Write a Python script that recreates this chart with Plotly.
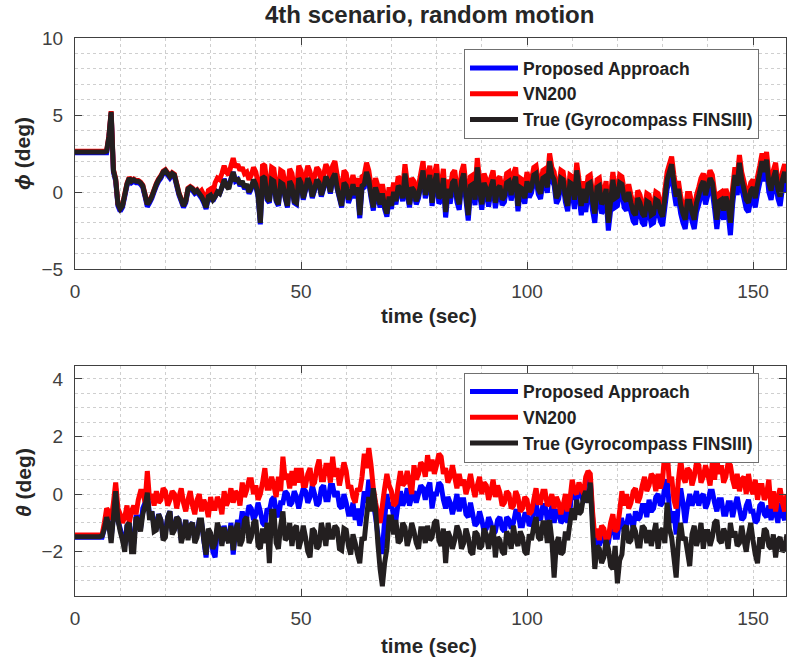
import plotly.graph_objects as go

# ---------------- data (0.5 s steps) ----------------
time_s = [i * 0.5 for i in range(316)]

phi_true = [
    2.6, 2.6, 2.6, 2.6, 2.6, 2.6, 2.6, 2.6, 2.6, 2.6, 2.6, 2.6, 2.6, 2.6, 2.65, 3.6, 5.2, 1.4, 0.8, -0.8,
    -1.1, -0.9, -0.2, 0.5, 0.9, 0.7, 0.8, 0.7, 0.7, 0.6, 0.4, -0.2, -0.8, -0.6, -0.3, 0.1, 0.5, 0.8, 1.0, 1.3,
    1.4, 1.2, 1.0, 1.2, 1.1, 0.5, -0.1, -0.5, -0.9, -0.6, 0.2, 0.3, 0.2, 0.0, 0.1, -0.1, -0.3, -0.6, -1.0, -0.3,
    -0.2, -0.5, -0.3, 0.0, -0.1, 0.3, 0.8, 0.4, 0.2, 0.8, 1.3, 0.7, 0.9, 0.5, 0.7, 0.3, 0.5, 0.0, 0.3, 0.8,
    0.5, -0.2, -2.0, 1.0, 0.9, -0.4, -0.6, 0.8, 0.7, -0.5, -0.8, 0.6, 0.5, -0.3, -0.9, 0.7, 0.4, -0.6, -0.7, 0.9,
    0.6, -0.4, 0.2, 0.9, 0.5, -0.3, 0.2, 0.8, 0.6, -0.2, 0.3, 1.0, 0.7, 0.0, 0.9, 1.2, 0.3, -0.3, -0.9, 0.6,
    0.4, -0.5, -0.1, 0.5, -0.2, 0.3, -1.5, 0.4, 0.5, 1.3, 0.8, -0.2, -1.0, 0.3, -0.2, -0.8, -0.1, -0.9, -1.4, -0.3,
    -0.9, 0.0, -0.6, 0.4, 0.2, -0.4, 1.2, 0.0, -0.8, 0.3, 0.1, -0.6, -0.2, 0.6, 1.4, -0.2, 0.5, 1.1, -0.7, 0.6,
    1.2, -0.4, -0.2, 0.9, -1.3, 0.2, -0.4, 0.6, 0.8, -0.3, -0.8, 0.7, 1.2, -0.2, -1.5, 0.4, 0.5, -0.5, 1.6, 0.2,
    -0.8, 0.6, 0.2, -0.6, 0.3, 0.8, -0.7, 0.2, 0.4, -0.5, -0.3, 0.6, 0.7, -0.2, 0.6, 1.0, -0.9, 0.3, 0.2, -0.4,
    0.7, 0.0, 0.3, 1.1, 1.2, 0.2, -0.1, 0.9, 1.0, 0.3, 2.0, 1.1, 0.8, -0.4, -0.1, 0.9, 0.8, -0.3, -0.9, 0.6,
    0.5, -0.5, 1.4, 0.3, -0.9, 0.2, -0.7, 0.5, 0.6, -0.6, -1.4, 0.3, 0.4, -0.8, -0.5, 0.2, -2.0, -0.6, 0.8, -0.4,
    -0.3, 0.6, 0.5, -0.4, -0.6, 0.0, -0.7, -1.3, -1.5, -0.4, -0.7, -1.4, -1.6, -0.6, -0.7, -1.5, -1.4, -0.5, -0.6, -1.3,
    -1.6, -0.4, 0.8, 1.3, 1.8, 0.6, -0.3, 0.2, -0.8, -1.4, -1.8, -0.6, -0.6, -1.3, -1.8, -0.7, -0.2, 0.4, 0.7, -0.2,
    0.4, 0.9, 0.6, -0.5, -1.8, -0.6, -0.5, -1.2, -0.3, -0.8, -2.0, -0.2, 1.1, 0.4, 1.9, 0.8, 0.2, -0.5, -0.7, 0.1,
    0.3, -0.4, 0.5, 1.2, 2.0, 1.3, 2.1, 0.6, 0.1, 0.9, 1.4, 0.2, -0.3, 0.8, 1.3, 0.6,
]

phi_vn200 = [
    2.65, 2.65, 2.65, 2.65, 2.65, 2.65, 2.65, 2.65, 2.65, 2.65, 2.65, 2.65, 2.65, 2.65, 2.7, 3.65, 5.25, 1.45, 0.85, -0.75,
    -1.05, -0.85, -0.15, 0.55, 0.95, 0.75, 0.85, 0.75, 0.75, 0.65, 0.45, -0.15, -0.75, -0.55, -0.25, 0.15, 0.55, 0.85, 1.05, 1.35,
    1.45, 1.25, 1.05, 1.25, 1.15, 0.55, -0.05, -0.45, -0.85, -0.55, 0.25, 0.35, 0.25, 0.05, 0.15, -0.05, 0.1, -0.2, -0.6, 0.1,
    0.2, -0.1, 0.6, 0.9, 0.8, 1.2, 1.7, 1.3, 1.1, 1.7, 2.2, 1.6, 1.8, 1.4, 1.6, 1.2, 1.3, 0.8, 1.1, 1.6,
    1.3, 0.6, -1.2, 1.8, 1.7, 0.4, 0.2, 1.6, 1.5, 0.3, 0.0, 1.4, 1.3, 0.5, -0.1, 1.5, 1.2, 0.2, 0.1, 1.7,
    1.4, 0.4, 1.0, 1.7, 1.3, 0.5, 1.0, 1.6, 1.4, 0.6, 1.1, 1.8, 1.5, 0.8, 1.7, 2.0, 1.1, 0.5, -0.1, 1.4,
    1.2, 0.3, 0.5, 1.1, 0.4, 0.9, -0.9, 1.0, 1.1, 1.9, 1.4, 0.4, -0.4, 0.9, 0.4, -0.2, 0.5, -0.3, -0.8, 0.3,
    -0.3, 0.6, 0.0, 1.0, 0.8, 0.2, 1.8, 0.6, -0.2, 0.9, 0.7, 0.0, 0.4, 1.2, 2.0, 0.4, 1.1, 1.7, -0.1, 1.2,
    1.8, 0.2, 0.4, 1.5, -0.7, 0.8, 0.2, 1.2, 1.4, 0.3, -0.2, 1.3, 1.8, 0.4, -0.9, 1.0, 1.1, 0.1, 2.2, 0.8,
    -0.2, 1.2, 0.8, 0.0, 0.9, 1.4, -0.1, 0.8, 1.0, 0.1, 0.3, 1.2, 1.3, 0.4, 1.2, 1.6, -0.3, 0.9, 0.8, 0.2,
    1.3, 0.6, 0.8, 1.6, 1.7, 0.7, 0.4, 1.4, 1.5, 0.8, 2.5, 1.6, 1.3, 0.1, 0.4, 1.4, 1.3, 0.2, -0.4, 1.1,
    1.0, 0.0, 1.9, 0.8, -0.4, 0.7, -0.2, 1.0, 1.1, -0.1, -0.9, 0.8, 0.9, -0.3, 0.0, 0.7, -1.5, -0.1, 1.3, 0.1,
    0.2, 1.1, 1.0, 0.1, -0.1, 0.5, -0.2, -0.8, -1.0, 0.1, -0.2, -0.9, -1.1, -0.1, -0.2, -1.0, -0.9, 0.0, -0.1, -0.8,
    -1.1, 0.1, 1.3, 1.8, 2.3, 1.1, 0.2, 0.7, -0.3, -0.9, -1.3, -0.1, -0.1, -0.8, -1.3, -0.2, 0.3, 0.9, 1.2, 0.3,
    0.9, 1.4, 1.1, 0.0, -1.3, -0.1, 0.0, -0.7, 0.2, -0.3, -1.5, 0.3, 1.6, 0.9, 2.4, 1.3, 0.7, 0.0, -0.2, 0.6,
    0.8, 0.1, 1.0, 1.7, 2.5, 1.8, 2.6, 1.1, 0.6, 1.4, 1.9, 0.7, 0.2, 1.3, 1.8, 1.1,
]

phi_proposed = [
    2.55, 2.55, 2.55, 2.55, 2.55, 2.55, 2.55, 2.55, 2.55, 2.55, 2.55, 2.55, 2.55, 2.55, 2.55, 3.5, 5.1, 1.3, 0.7, -0.9,
    -1.25, -1.0, -0.3, 0.4, 0.8, 0.6, 0.7, 0.6, 0.6, 0.5, 0.3, -0.3, -0.95, -0.7, -0.4, 0.0, 0.4, 0.7, 0.9, 1.2,
    1.3, 1.1, 0.9, 1.1, 1.0, 0.4, -0.2, -0.6, -1.0, -0.7, 0.1, 0.2, 0.1, -0.1, 0.0, -0.2, -0.4, -0.7, -1.1, -0.4,
    -0.3, -0.6, -0.3, 0.0, -0.1, 0.3, 0.85, 0.45, 0.25, 0.85, 1.3, 0.7, 0.8, 0.4, 0.6, 0.2, 0.4, -0.1, 0.2, 0.7,
    0.4, -0.3, -2.1, 0.9, 0.8, -0.5, -0.7, 0.7, 0.6, -0.6, -0.9, 0.5, 0.4, -0.4, -1.0, 0.6, 0.3, -0.7, -0.8, 0.8,
    0.5, -0.5, 0.1, 0.8, 0.4, -0.4, 0.1, 0.7, 0.5, -0.3, 0.2, 0.9, 0.6, -0.1, 0.8, 1.1, 0.2, -0.4, -1.0, 0.5,
    0.2, -0.7, -0.3, 0.3, -0.4, 0.1, -1.7, 0.2, 0.3, 1.1, 0.6, -0.4, -1.2, 0.1, -0.4, -1.0, -0.3, -1.1, -1.6, -0.5,
    -1.1, -0.2, -0.8, 0.2, 0.0, -0.6, 1.0, -0.2, -1.0, 0.1, -0.1, -0.8, -0.4, 0.4, 1.2, -0.4, 0.3, 0.9, -0.9, 0.4,
    0.85, -0.75, -0.55, 0.55, -1.65, -0.15, -0.75, 0.25, 0.45, -0.65, -1.15, 0.35, 0.85, -0.55, -1.85, 0.05, 0.15, -0.85, 1.25, -0.15,
    -1.15, 0.25, -0.15, -0.95, -0.05, 0.45, -1.05, -0.15, 0.05, -0.85, -0.65, 0.25, 0.35, -0.55, 0.25, 0.65, -1.25, -0.05, -0.15, -0.75,
    0.35, -0.35, -0.05, 0.75, 0.85, -0.15, -0.45, 0.55, 0.65, -0.05, 1.65, 0.75, 0.45, -0.75, -0.45, 0.55, 0.45, -0.65, -1.25, 0.25,
    -0.1, -1.1, 0.8, -0.3, -1.5, -0.4, -1.3, -0.1, 0.0, -1.2, -2.0, -0.3, -0.2, -1.4, -1.1, -0.4, -2.5, -1.2, 0.2, -1.0,
    -0.9, 0.0, -0.1, -1.0, -1.2, -0.6, -1.3, -1.9, -2.1, -1.0, -1.3, -2.0, -2.2, -1.2, -1.3, -2.1, -2.0, -1.1, -1.2, -1.9,
    -2.2, -1.0, 0.2, 0.7, 1.2, 0.0, -0.9, -0.4, -1.4, -2.0, -2.4, -1.2, -1.2, -1.9, -2.4, -1.3, -0.8, -0.2, 0.1, -0.8,
    -0.2, 0.3, 0.0, -1.1, -2.4, -1.2, -1.1, -1.8, -0.9, -1.4, -2.8, -0.8, 0.5, -0.2, 1.3, 0.2, -0.4, -1.1, -1.3, -0.5,
    -0.3, -1.0, -0.1, 0.6, 1.4, 0.7, 1.5, 0.0, -0.5, 0.3, 0.8, -0.4, -0.9, 0.2, 0.7, 0.0,
]

theta_true = [
    -1.48, -1.48, -1.48, -1.48, -1.48, -1.48, -1.48, -1.48, -1.48, -1.48, -1.48, -1.48, -1.45, -1.2, -0.8, -1.1, -1.7, -0.8, 0.1, -0.9,
    -1.3, -1.6, -2.0, -1.1, -1.0, -2.0, -2.0, -0.8, -0.9, -1.3, -0.7, -0.4, 0.05, -0.9, -0.6, -1.3, -1.25, -0.7, -0.9, -1.6,
    -1.5, -0.8, -0.6, -1.4, -1.25, -0.8, -0.9, -1.7, -1.4, -0.9, -1.6, -1.1, -1.0, -1.7, -1.5, -0.9, -0.9, -1.6, -2.1, -1.2,
    -1.35, -1.9, -1.7, -1.0, -1.25, -1.8, -1.15, -1.5, -1.7, -1.1, -1.95, -1.3, -1.0, -1.8, -1.6, -0.9, -0.8, -1.7, -1.5, -1.0,
    -0.9, -1.8, -1.9, -1.2, -1.7, -1.0, -2.4, -0.6, -0.6, -1.7, -1.9, -1.1, -0.6, -1.6, -1.5, -1.0, -1.8, -1.2, -1.1, -1.9,
    -1.6, -1.1, -1.5, -2.0, -2.2, -1.2, -1.3, -1.9, -1.8, -1.0, -1.35, -1.8, -1.0, -1.5, -1.5, -1.1, -1.2, -1.9, -1.95, -1.2,
    -1.25, -1.8, -2.1, -1.4, -1.7, -2.1, -2.4, -1.5, -1.6, -0.8, -0.1, -0.6, 0.2, -0.5, -1.7, -2.6, -3.2, -2.4, -1.9, -0.8,
    -0.8, -1.4, -0.9, -1.7, -1.6, -1.0, -1.15, -1.8, -1.5, -1.0, -1.3, -1.7, -1.9, -1.2, -1.2, -1.7, -1.1, -1.6, -1.5, -1.0,
    -0.9, -1.6, -1.8, -1.2, -2.4, -1.3, -1.5, -1.9, -1.6, -1.1, -1.3, -1.9, -1.7, -1.2, -1.5, -2.0, -2.1, -1.3, -1.4, -1.9,
    -1.8, -1.2, -1.4, -1.9, -1.5, -1.1, -2.2, -1.5, -1.6, -2.0, -2.1, -1.3, -1.5, -1.9, -1.1, -1.6, -1.8, -1.3, -1.5, -2.0,
    -2.1, -1.4, -1.6, -1.1, -0.8, -1.5, -1.6, -1.0, -1.0, -1.7, -0.9, -1.6, -2.9, -1.7, -1.5, -2.1, -2.0, -1.3, -1.6, -1.0,
    -0.5, -0.9, -0.2, -0.7, -0.6, -0.1, 0.1, -0.3, 0.4, -1.2, -2.6, -1.8, -1.9, -2.4, -2.2, -1.6, -1.9, -2.5, -2.6, -1.8,
    -3.1, -2.3, -2.1, -1.2, -1.1, -1.7, -1.6, -1.1, -1.3, -1.8, -1.8, -1.1, -1.2, -1.7, -1.25, -1.8, -1.4, -1.0, -1.9, -1.3,
    -1.2, -1.7, -0.3, -1.2, -1.5, -2.2, -2.9, -1.6, -1.0, -1.6, -1.5, -2.0, -2.5, -1.4, -1.1, -1.8, -1.5, -1.0, -1.9, -1.3,
    -1.3, -1.8, -1.5, -1.0, -0.9, -1.6, -1.7, -1.2, -1.4, -1.9, -1.0, -1.5, -1.3, -1.8, -1.7, -1.1, -1.6, -2.0, -1.4, -1.0,
    -1.6, -2.1, -2.4, -1.5, -1.9, -1.2, -1.3, -1.8, -1.9, -1.4, -2.2, -1.6, -1.5, -2.0, -1.9, -1.4,
]

theta_vn200 = [
    -1.42, -1.42, -1.42, -1.42, -1.42, -1.42, -1.42, -1.42, -1.42, -1.42, -1.42, -1.42, -1.4, -1.0, -0.5, -0.6, -0.9, -0.3, 0.4, -0.5,
    -0.7, -1.0, -0.8, -0.4, -1.0, -0.6, -0.4, -0.7, -0.2, 0.1, 0.1, -0.3, 0.8, -0.2, 0.0, -0.4, 0.1, -0.3, -0.2, 0.2,
    0.1, -0.4, -0.2, 0.1, 0.0, -0.5, -0.1, 0.2, -0.3, -0.6, -0.2, 0.1, -0.4, -0.7, -0.2, 0.0, -0.6, -0.2, -0.4, -0.8,
    -0.1, -0.5, -0.5, -0.1, -0.3, -0.7, 0.1, -0.4, -0.2, 0.2, -0.3, 0.1, 0.0, -0.4, 0.4, -0.1, 0.15, 0.5, 0.5, 0.0,
    0.3, -0.2, 0.0, 0.4, 0.9, 0.2, 0.2, 0.6, 0.3, -0.1, 0.6, 0.1, 1.3, 0.5, 0.7, 0.2, 0.8, 0.3, 0.9, 0.4,
    0.9, 0.3, 0.3, 0.7, 0.9, 0.3, 0.4, 0.9, 1.2, 0.5, 0.5, 1.0, 1.0, 0.4, 1.3, 0.6, 0.9, 0.3, 0.7, 1.1,
    0.8, 0.2, 0.3, -0.1, -0.3, 0.2, 0.1, 0.6, 1.4, 0.9, 1.6, 1.0, 0.2, -0.3, -0.7, -1.0, -0.4, 0.2, 0.7, 0.3,
    0.1, -0.4, -0.3, 0.3, 0.8, 0.3, 0.4, 0.8, 0.4, 0.0, 1.0, 0.5, 0.7, 1.1, 1.0, 0.6, 1.35, 0.8, 1.2, 0.7,
    1.0, 1.4, 1.3, 0.7, 0.9, 0.4, 0.6, 1.0, 0.6, 0.2, 0.7, 0.3, 0.5, 0.0, 0.3, 0.7, 0.25, -0.1, 0.3, 0.6,
    0.0, 0.4, 0.3, -0.2, 0.1, 0.5, -0.1, 0.3, 0.05, -0.4, -0.3, 0.1, 0.0, -0.5, -0.4, 0.1, -0.1, -0.6, -0.5, -0.1,
    -0.2, -0.7, -0.6, -0.2, 0.2, -0.3, -0.3, 0.1, 0.1, -0.4, -0.3, 0.0, -0.5, -0.1, -0.3, -0.7, -0.4, 0.0, -0.6, -0.2,
    0.5, 0.1, 0.0, 0.4, 0.2, 0.0, 0.6, 0.8, 0.7, -0.6, -1.5, -1.2, -1.6, -1.1, -1.2, -1.6, -1.5, -1.0, -0.7, -1.3,
    -1.2, -0.6, 0.1, -0.4, 0.0, -0.5, -0.3, 0.1, 0.2, -0.3, -0.1, 0.3, 0.6, 0.1, 0.3, 0.7, 0.6, 0.1, 0.7, 0.2,
    0.5, 1.5, 1.5, 0.4, 0.6, -0.2, -0.5, 0.5, 1.2, 0.6, 0.4, 0.9, 0.8, 0.3, 0.6, 1.1, 1.0, 0.4, 0.6, 1.0,
    0.7, 0.3, 1.1, 0.5, 1.2, 0.7, 1.0, 0.4, 0.6, 1.1, 1.0, 0.5, 0.2, 0.7, 0.1, 0.5, 0.6, 0.0, 0.7, 0.2,
    0.0, 0.5, -0.2, 0.3, 0.3, -0.2, 0.0, 0.5, -0.5, 0.1, -0.6, -0.1, 0.2, -0.3, -0.6, 0.0,
]

theta_proposed = [
    -1.5, -1.5, -1.5, -1.5, -1.5, -1.5, -1.5, -1.5, -1.5, -1.5, -1.5, -1.5, -1.5, -1.2, -0.8, -1.1, -1.5, -0.8, 0.2, -0.9,
    -1.2, -1.5, -1.8, -1.1, -1.0, -1.8, -1.7, -0.8, -0.8, -1.2, -0.5, -0.3, 0.1, -0.8, -0.6, -1.1, -1.1, -0.7, -0.9, -1.5,
    -1.3, -0.8, -0.6, -1.3, -1.2, -0.8, -0.9, -1.6, -1.3, -0.9, -1.5, -1.1, -1.0, -1.6, -1.4, -0.9, -1.0, -1.6, -2.2, -1.3,
    -1.4, -2.0, -2.2, -1.2, -1.2, -1.7, -1.1, -1.5, -1.6, -1.0, -2.1, -1.3, -0.9, -1.2, -0.6, -1.0, -0.8, -0.4, -0.5, -0.9,
    -0.7, -0.3, -0.6, -1.0, -1.1, -0.5, -0.6, -0.2, -0.1, -0.6, -0.8, -0.3, -0.3, 0.1, 0.0, -0.4, -0.3, 0.1, -0.1, -0.5,
    -0.1, 0.2, 0.1, -0.3, -0.1, 0.3, 0.0, -0.4, -0.3, 0.2, 0.3, -0.2, -0.2, 0.3, 0.3, -0.1, 0.1, -0.4, -0.5, 0.0,
    -0.3, -0.7, -0.7, -0.3, -0.9, -0.5, -1.1, -0.6, 0.1, -0.3, 0.5, 0.0, -0.3, -0.8, -1.4, -2.0, -2.0, -0.9, 0.0, -0.5,
    -0.3, -0.8, -0.9, -0.3, 0.1, -0.4, -0.2, 0.2, -0.4, -0.1, 0.1, -0.3, 0.0, 0.3, 0.2, -0.2, 0.2, 0.4, -0.5, 0.0,
    0.0, 0.4, 0.3, -0.2, -0.5, -0.1, -0.3, -0.7, -0.4, 0.0, -0.6, -0.2, -0.2, -0.7, -0.8, -0.3, -0.7, -1.1, -1.0, -0.6,
    -0.9, -1.3, -1.2, -0.8, -1.0, -1.4, -1.3, -0.9, -0.8, -1.2, -1.3, -0.8, -0.9, -1.2, -1.0, -0.6, -0.6, -1.1, -1.1, -0.7,
    -0.7, -1.1, -1.0, -0.6, -0.3, -0.8, -0.9, -0.4, -0.4, -0.9, -0.8, -0.4, -1.0, -0.6, -0.6, -1.0, -0.9, -0.5, -1.0, -0.6,
    0.3, -0.1, -0.2, 0.2, 0.0, -0.3, 0.4, 0.6, 0.5, -0.8, -1.8, -1.4, -1.8, -1.3, -1.5, -1.9, -1.7, -1.2, -1.0, -1.5,
    -1.5, -0.9, -0.9, -1.3, -1.1, -0.7, -0.9, -1.2, -0.6, -0.9, -0.8, -0.4, -0.4, -0.8, -0.2, -0.6, -0.5, -0.1, 0.0, -0.4,
    -0.3, 0.3, 0.5, -0.5, -1.0, -0.6, -1.4, -0.3, 0.2, -0.3, -1.0, -0.4, 0.0, -0.4, -0.2, 0.1, -0.4, -0.1, 0.0, -0.5,
    -0.3, 0.1, 0.1, -0.3, -0.6, -0.2, -0.2, -0.7, -0.7, -0.3, -0.3, -0.8, -0.4, -0.1, -0.5, -0.9, -0.8, -0.4, -0.2, -0.6,
    -0.6, -1.0, -0.9, -0.4, -0.3, -0.7, -0.8, -0.4, -0.9, -0.5, -0.6, -1.0, -0.3, -0.7, -0.9, -0.5,
]

series_names = ["Proposed Approach", "VN200", "True (Gyrocompass FINSIII)"]
series_colors = ["#0000ff", "#ff0000", "#231f20"]

title_text = "4th scenario, random motion"
xlabel_text = "time (sec)"
ylabel_top = "<i>ϕ</i> (deg)"
ylabel_bot = "<i>θ</i> (deg)"

# ---------------- figure ----------------
W, H = 787, 659
FONT = "Liberation Sans, Arial, Helvetica, sans-serif"
AX = "#404040"
GRID = "#cfcfcf"
LW = 5

fig = go.Figure()

top_sets = [phi_proposed, phi_vn200, phi_true]
bot_sets = [theta_proposed, theta_vn200, theta_true]

for name, col, ys in zip(series_names, series_colors, top_sets):
    fig.add_trace(go.Scatter(x=time_s, y=ys, mode="lines", name=name,
                             line=dict(color=col, width=LW, simplify=False),
                             xaxis="x", yaxis="y", legend="legend"))
for name, col, ys in zip(series_names, series_colors, bot_sets):
    fig.add_trace(go.Scatter(x=time_s, y=ys, mode="lines", name=name,
                             line=dict(color=col, width=LW, simplify=False),
                             xaxis="x2", yaxis="y2", legend="legend2"))

px_l, px_r = 75, 786
top_t, top_b = 38, 269
bot_t, bot_b = 365.7, 595.7

def xd():
    return [px_l / W, px_r / W]

def yd(t, b):
    return [1 - b / H, 1 - t / H]

common_axis = dict(
    showline=True, linecolor=AX, linewidth=1, mirror="ticks",
    ticks="inside", ticklen=7, tickwidth=1, tickcolor=AX,
    tickfont=dict(family=FONT, size=19, color=AX),
    showgrid=True, gridcolor=GRID, griddash="dot", gridwidth=1,
    zeroline=False, automargin=False,
)

legend_common = dict(
    xanchor="left", yanchor="top",
    bgcolor="white", bordercolor="#707070", borderwidth=1,
    font=dict(family=FONT, size=17.5, color="#222222", weight="bold"),
    itemwidth=48, tracegroupgap=0,
)

fig.update_layout(
    width=W, height=H, autosize=False,
    margin=dict(l=0, r=0, t=0, b=0, pad=0),
    paper_bgcolor="white", plot_bgcolor="white",
    showlegend=True,
    xaxis=dict(domain=xd(), anchor="y", range=[0, 157.3], tickvals=[0, 50, 100, 150],
               ticklabelstandoff=5,
               minor=dict(dtick=10, tick0=0, showgrid=True, gridcolor=GRID, griddash="dot"),
               **common_axis),
    yaxis=dict(domain=yd(top_t, top_b), anchor="x", range=[-5, 10], tickvals=[-5, 0, 5, 10],
               ticklabelstandoff=7,
               minor=dict(dtick=1, tick0=0, showgrid=True, gridcolor=GRID, griddash="dot"),
               **common_axis),
    xaxis2=dict(domain=xd(), anchor="y2", range=[0, 157.3], tickvals=[0, 50, 100, 150],
                ticklabelstandoff=5,
                minor=dict(dtick=10, tick0=0, showgrid=True, gridcolor=GRID, griddash="dot"),
                **common_axis),
    yaxis2=dict(domain=yd(bot_t, bot_b), anchor="x2", range=[-3.53, 4.46], tickvals=[-2, 0, 2, 4],
                ticklabelstandoff=7,
                minor=dict(dtick=0.5, tick0=0, showgrid=True, gridcolor=GRID, griddash="dot"),
                **common_axis),
    legend=dict(x=464 / W, y=1 - 49 / H, **legend_common),
    legend2=dict(x=464 / W, y=1 - 372.7 / H, **legend_common),
)

anns = [
    dict(text=title_text, x=429.5 / W, y=1 - 15 / H, size=24),
    dict(text=xlabel_text, x=429.5 / W, y=1 - 315 / H, size=20.5),
    dict(text=xlabel_text, x=429.5 / W, y=1 - 645 / H, size=20.5),
]
for a in anns:
    fig.add_annotation(text=a["text"], x=a["x"], y=a["y"], xref="paper", yref="paper",
                       xanchor="center", yanchor="middle", showarrow=False,
                       font=dict(family=FONT, size=a["size"], color="#262626", weight="bold"))

for txt, yc in [(ylabel_top, 154), (ylabel_bot, 483)]:
    fig.add_annotation(text=txt, x=23 / W, y=1 - yc / H, xref="paper", yref="paper",
                       xanchor="center", yanchor="middle", showarrow=False, textangle=-90,
                       font=dict(family=FONT, size=21, color="#262626", weight="bold"))

fig.write_html("out.html")
